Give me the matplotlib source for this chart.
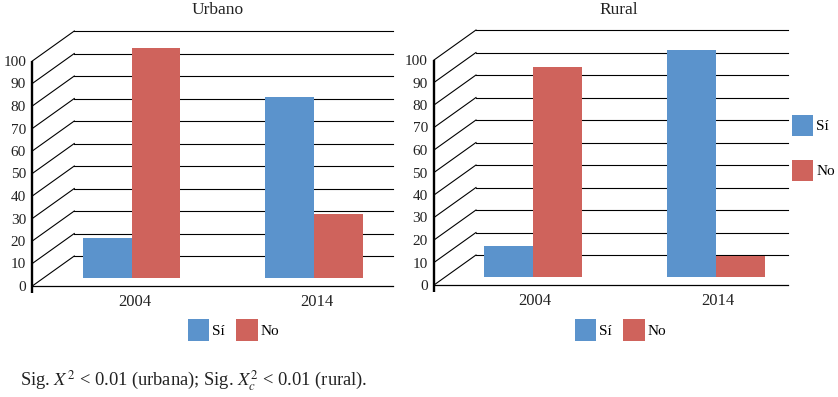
import matplotlib
matplotlib.use("Agg")
import matplotlib.pyplot as plt
from matplotlib.patches import Patch
from matplotlib.transforms import ScaledTranslation, blended_transform_factory

plt.rcParams["font.family"] = ["Liberation Serif", "DejaVu Serif"]
plt.rcParams["mathtext.fontset"] = "stix"

YEARS = ["2004", "2014"]
SERIES = ["Sí", "No"]
URBANO_SI = [17.8, 80.4]
URBANO_NO = [102.2, 28.6]
RURAL_SI = [13.9, 101.0]
RURAL_NO = [93.6, 9.6]
TICKS = list(range(0, 101, 10))

BLUE = "#5B93CC"
RED = "#CF635C"

W, H = 838, 397       # figure size, px (dpi 100)
DEPTH = (42, 30)      # back wall offset from the front plane, px
BAR_DEPTH = (10.8, 7.7)
BAR_W = 0.267
PX = 2.25             # px per value unit


def shift(fig, dx, dy):
    return ScaledTranslation(dx / 100, dy / 100, fig.dpi_scale_trans)


def panel(fig, left, right, floor, xlim, title, title_x, si, no, legend_x, side_legend=False):
    ax = fig.add_axes([left / W, (H - floor) / H, (right - left) / W, 100 * PX / H])
    ax.set_xlim(*xlim)
    ax.set_ylim(0, 100)
    ax.patch.set_visible(False)
    for s in ax.spines.values():
        s.set_visible(False)
    ax.set_xticks([])
    ax.set_yticks(TICKS)
    ax.tick_params(axis="y", length=0, pad=4.5, labelsize=11, labelcolor="#222222")

    front = blended_transform_factory(ax.transAxes, ax.transData)
    back = front + shift(fig, *DEPTH)
    w_px = right - left

    # back wall grid and left wall diagonals
    for v in TICKS:
        ax.plot([0, 1 - DEPTH[0] / w_px], [v, v], transform=back, color="black",
                lw=0.8, clip_on=False, zorder=1)
        p0 = fig.transFigure.inverted().transform(front.transform((0, v)))
        p1 = fig.transFigure.inverted().transform(back.transform((0, v)))
        ax.plot([p0[0], p1[0]], [p0[1], p1[1]], transform=fig.transFigure,
                color="black", lw=0.8, clip_on=False, zorder=1)
    # floor front edge and thick vertical axis
    ax.plot([0, 1], [0, 0], transform=front, color="black", lw=0.9, clip_on=False, zorder=1)
    ax.plot([0, 0], [-3.2, 100], transform=front, color="black", lw=1.7,
            solid_capstyle="butt", clip_on=False, zorder=4)

    bar_tr = ax.transData + shift(fig, *BAR_DEPTH)
    x = range(len(YEARS))
    ax.bar([i - BAR_W / 2 for i in x], si, BAR_W, color=BLUE, transform=bar_tr,
           clip_on=False, zorder=3)
    ax.bar([i + BAR_W / 2 for i in x], no, BAR_W, color=RED, transform=bar_tr,
           clip_on=False, zorder=3)
    ax.set_xlim(*xlim)
    ax.set_ylim(0, 100)

    for i, year in enumerate(YEARS):
        ax.text(i, 0, year, transform=bar_tr + shift(fig, 2.6, -23.4),
                ha="center", va="center", fontsize=12, color="#222222")

    fig.text(title_x / W, 1 - 10 / H, title, ha="center", va="center",
             fontsize=12.5, color="#222222")

    handles = [Patch(facecolor=BLUE), Patch(facecolor=RED)]
    fig.legend(handles, SERIES, loc="center", bbox_to_anchor=(legend_x / W, 1 - 330 / H),
               bbox_transform=fig.transFigure, ncol=2, frameon=False, fontsize=11,
               handlelength=1.4, handleheight=1.74, handletextpad=0.2, columnspacing=0.75,
               borderpad=0, borderaxespad=0)
    if side_legend:
        fig.legend(handles, SERIES, loc="center left",
                   bbox_to_anchor=(792 / W, 1 - 148 / H),
                   bbox_transform=fig.transFigure, ncol=1, frameon=False, fontsize=11,
                   handlelength=1.4, handleheight=1.74, handletextpad=0.2,
                   labelspacing=1.57, borderpad=0, borderaxespad=0)
    return ax


fig = plt.figure(figsize=(W / 100, H / 100), dpi=100)
fig.patch.set_facecolor("white")

panel(fig, 32.3, 393, 286, (-0.486, 1.492), "Urbano", 217.3, URBANO_SI, URBANO_NO, 233.5)
panel(fig, 434, 788, 285, (-0.48, 1.454), "Rural", 618.3, RURAL_SI, RURAL_NO, 620.7,
      side_legend=True)

fig.text(20 / W, 1 - 381 / H,
         r"Sig. $X^2$ < 0.01 (urbana); Sig. $X^2_c$ < 0.01 (rural).",
         ha="left", va="center", fontsize=13.3, color="#222222")

fig.savefig("out.png", dpi=100, facecolor="white")
